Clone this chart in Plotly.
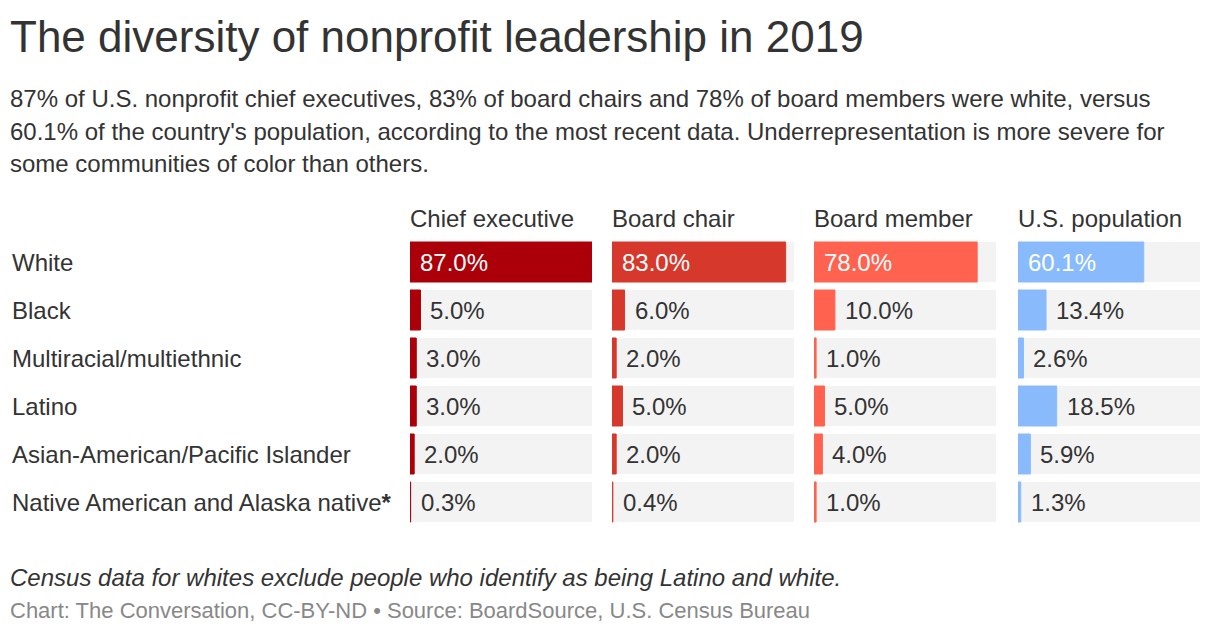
import plotly.graph_objects as go

categories = ["White", "Black", "Multiracial/multiethnic", "Latino",
              "Asian-American/Pacific Islander", "Native American and Alaska native*"]
columns = ["Chief executive", "Board chair", "Board member", "U.S. population"]
chief_executive = [87.0, 5.0, 3.0, 3.0, 2.0, 0.3]
board_chair = [83.0, 6.0, 2.0, 5.0, 2.0, 0.4]
board_member = [78.0, 10.0, 1.0, 5.0, 4.0, 1.0]
us_population = [60.1, 13.4, 2.6, 18.5, 5.9, 1.3]
series = [chief_executive, board_chair, board_member, us_population]
colors = ["#ab0009", "#d7382c", "#ff634f", "#89bbfc"]
row_labels = ["White", "Black", "Multiracial/multiethnic", "Latino",
              "Asian-American/Pacific Islander", "Native American and Alaska native<b>*</b>"]

W, H = 1220, 634
FONT = "Liberation Sans, Arial, sans-serif"
TXT = "#333333"

def px(x):
    return x / W

def py(y):
    return 1 - y / H

xmax = max(max(s) for s in series)
panel_left = [410, 612, 814, 1018]
panel_w = 182

fig = go.Figure()
annotations = []
layout_axes = {}
for i, (vals, col, name) in enumerate(zip(series, colors, columns)):
    n = "" if i == 0 else str(i + 1)
    xa, ya = "x" + n, "y" + n
    fig.add_trace(go.Bar(x=[xmax] * len(categories), y=categories, orientation="h",
                         marker=dict(color="#f3f3f3", line=dict(width=0)),
                         xaxis=xa, yaxis=ya, hoverinfo="skip", showlegend=False))
    fig.add_trace(go.Bar(x=vals, y=categories, orientation="h",
                         marker=dict(color=col, line=dict(color=col, width=1)),
                         xaxis=xa, yaxis=ya, showlegend=False,
                         hovertemplate="%{y}: %{x:.1f}%<extra></extra>"))
    layout_axes["xaxis" + n] = dict(domain=[px(panel_left[i]), px(panel_left[i] + panel_w)],
                                    range=[0, xmax], visible=False, fixedrange=True,
                                    anchor=ya)
    layout_axes["yaxis" + n] = dict(domain=[py(526), py(238)], autorange="reversed",
                                    visible=False, fixedrange=True, anchor=xa,
                                    type="category", categoryorder="array",
                                    categoryarray=categories)
    annotations.append(dict(text=name, xref="paper", yref="paper",
                            x=px(panel_left[i] - 2), y=py(218), xanchor="left",
                            yanchor="middle", showarrow=False,
                            font=dict(family=FONT, size=24, color=TXT)))
    for j, (cat, v) in enumerate(zip(categories, vals)):
        inside = v / xmax > 0.3
        annotations.append(dict(text=f"{v:.1f}%", xref=xa, yref=ya,
                                x=0 if inside else v, y=cat, xanchor="left",
                                yanchor="middle", xshift=8,
                                showarrow=False,
                                font=dict(family=FONT, size=24,
                                          color="#ffffff" if inside else TXT)))

for cat, lab in zip(categories, row_labels):
    annotations.append(dict(text=lab, xref="paper", yref="y", x=px(10), y=cat,
                            xanchor="left", yanchor="middle", showarrow=False,
                            font=dict(family=FONT, size=24, color=TXT)))

annotations.append(dict(text="The diversity of nonprofit leadership in 2019",
                        xref="paper", yref="paper", x=px(8), y=py(37),
                        xanchor="left", yanchor="middle", showarrow=False,
                        font=dict(family=FONT, size=44, color=TXT)))
sub_lines = ["87% of U.S. nonprofit chief executives, 83% of board chairs and 78% of board members were white, versus",
             "60.1% of the country's population, according to the most recent data. Underrepresentation is more severe for",
             "some communities of color than others."]
for k, line in enumerate(sub_lines):
    annotations.append(dict(text=line, xref="paper", yref="paper", x=px(8),
                            y=py(98 + 33 * k), xanchor="left", yanchor="middle",
                            showarrow=False,
                            font=dict(family=FONT, size=24, color=TXT)))
annotations.append(dict(text="<i>Census data for whites exclude people who identify as being Latino and white.</i>",
                        xref="paper", yref="paper", x=px(8), y=py(577),
                        xanchor="left", yanchor="middle", showarrow=False,
                        font=dict(family=FONT, size=24, color=TXT)))
annotations.append(dict(text="Chart: The Conversation, CC-BY-ND • Source: BoardSource, U.S. Census Bureau",
                        xref="paper", yref="paper", x=px(8), y=py(610),
                        xanchor="left", yanchor="middle", showarrow=False,
                        font=dict(family=FONT, size=22, color="#888888")))

fig.update_layout(width=W, height=H, margin=dict(l=0, r=0, t=0, b=0),
                  paper_bgcolor="white", plot_bgcolor="white",
                  barmode="overlay", bargap=8 / 48,
                  annotations=annotations, font=dict(family=FONT, color=TXT),
                  **layout_axes)

fig.write_html("out.html", config={"displayModeBar": False},
               post_script="document.body.style.margin='0';document.body.style.overflow='hidden';")
